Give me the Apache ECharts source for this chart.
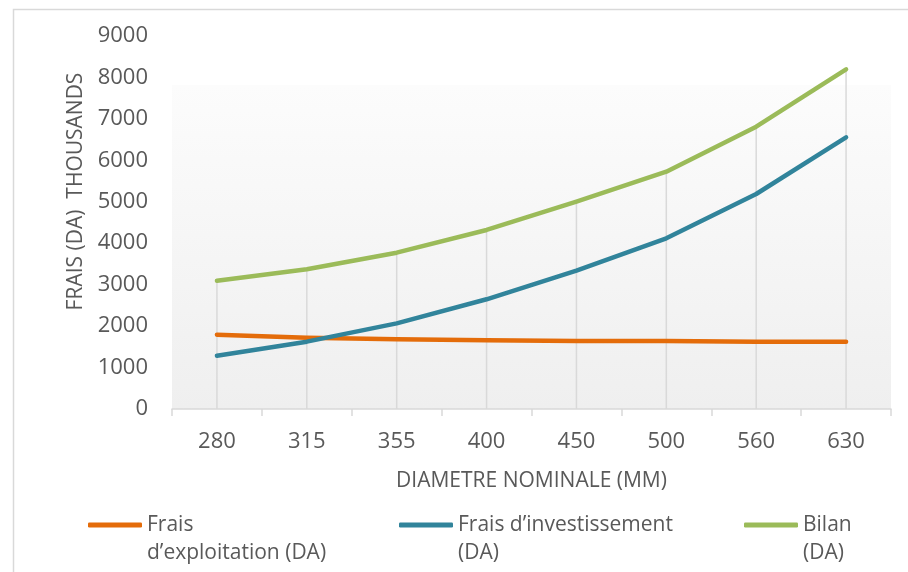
<!DOCTYPE html>
<html>
<head>
<meta charset="utf-8">
<script src="https://cdn.jsdelivr.net/npm/echarts@6/dist/echarts.min.js"></script>
<style>
  html, body { margin: 0; padding: 0; background: #ffffff; }
  #chart { width: 908px; height: 572px; }
</style>
</head>
<body>
<div id="chart"></div>
<script>
// Nominal pipe diameters (mm)
const diametres = ['280', '315', '355', '400', '450', '500', '560', '630'];

// Costs in thousands of DA
const fraisExploitation = [1794, 1721, 1681, 1657, 1641, 1641, 1625, 1625];
const fraisInvestissement = [1287, 1625, 2067, 2647, 3338, 4118, 5188, 6556];
const bilan = [3096, 3371, 3772, 4320, 5003, 5727, 6813, 8197];

const seriesNames = ['Frais d’exploitation (DA)', 'Frais d’investissement (DA)', 'Bilan (DA)'];
// legend captions wrap onto two lines; the leading blank line keeps the
// swatch level with the first line of text
const legendLabels = [' \nFrais\nd’exploitation (DA)', ' \nFrais d’investissement\n(DA)', ' \nBilan\n(DA)'];
const colors = ['#E46C0A', '#31849B', '#9BBB59'];

const textColor = '#595959';
const fontFamily = '"Open Sans", sans-serif';

const chart = echarts.init(document.getElementById('chart'));

function makeLegend(i, left) {
  return {
    data: [seriesNames[i]],
    left: left,
    top: 483,
    icon: 'roundRect',
    itemWidth: 54,
    itemHeight: 5,
    itemGap: 0,
    padding: 0,
    formatter: () => legendLabels[i],
    textStyle: {
      color: textColor,
      fontFamily: fontFamily,
      fontSize: 21,
      lineHeight: 28
    }
  };
}

function lineSeries(i, values) {
  return {
    name: seriesNames[i],
    type: 'line',
    data: values,
    symbol: 'none',
    z: 5,
    lineStyle: { color: colors[i], width: 4.5, cap: 'round', join: 'round' },
    itemStyle: { color: colors[i] }
  };
}

chart.setOption({
  animation: false,
  graphic: [{
    type: 'rect',
    left: 11,
    top: 7,
    shape: { width: 1200, height: 1200 },
    style: { fill: 'none', stroke: '#d9d9d9', lineWidth: 1.5 },
    silent: true
  }],
  grid: {
    left: 172,
    right: 17,
    top: 36,
    bottom: 163,
    show: true,
    borderWidth: 0,
    backgroundColor: {
      type: 'linear', x: 0, y: 0, x2: 0, y2: 1,
      colorStops: [
        { offset: 0, color: '#ffffff' },
        { offset: 0.131, color: '#ffffff' },
        { offset: 0.132, color: '#fcfcfc' },
        { offset: 1, color: '#efefef' }
      ]
    }
  },
  legend: [makeLegend(0, 88), makeLegend(1, 399), makeLegend(2, 744)],
  xAxis: {
    type: 'category',
    data: diametres,
    boundaryGap: true,
    name: 'DIAMETRE NOMINALE (MM)',
    nameLocation: 'middle',
    nameGap: 62,
    nameTextStyle: { color: textColor, fontFamily: fontFamily, fontSize: 21 },
    axisLine: { lineStyle: { color: '#d9d9d9', width: 1.5 } },
    axisTick: { show: true, interval: 0, length: 7, lineStyle: { color: '#d9d9d9', width: 1.5 } },
    axisLabel: { color: textColor, fontFamily: fontFamily, fontSize: 22, margin: 22 },
    splitLine: { show: false }
  },
  yAxis: {
    type: 'value',
    min: 0,
    max: 9000,
    interval: 1000,
    name: 'FRAIS (DA)  THOUSANDS',
    nameLocation: 'middle',
    nameGap: 77,
    nameTextStyle: { color: textColor, fontFamily: fontFamily, fontSize: 21, padding: [0, 0, 0, 62] },
    axisLine: { show: false },
    axisTick: { show: false },
    axisLabel: {
      color: textColor, fontFamily: fontFamily, fontSize: 22, margin: 24,
      formatter: (v) => String(v)
    },
    splitLine: { show: false }
  },
  series: [
    {
      // drop lines from the highest curve down to the axis
      name: 'drop',
      type: 'bar',
      data: bilan,
      barWidth: 1.5,
      silent: true,
      z: 1,
      itemStyle: { color: '#d9d9d9' }
    },
    lineSeries(0, fraisExploitation),
    lineSeries(1, fraisInvestissement),
    lineSeries(2, bilan)
  ]
});
</script>
</body>
</html>
